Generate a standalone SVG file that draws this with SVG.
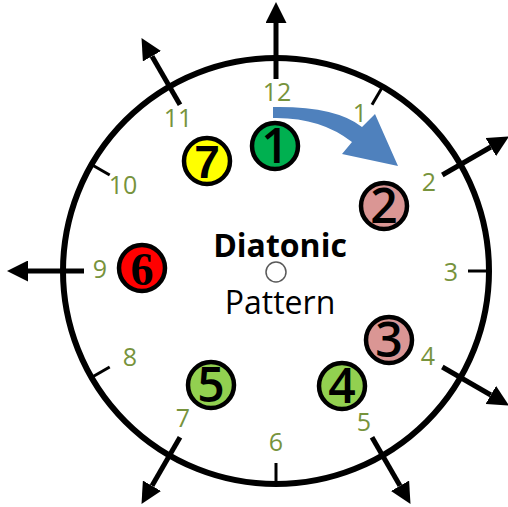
<svg xmlns="http://www.w3.org/2000/svg" width="508" height="507" viewBox="0 0 508 507">
<defs>
<style>
.lbl{font-family:"Open Sans","Liberation Sans",sans-serif;font-size:25px;fill:#77933C;text-anchor:middle}
.tick{stroke:#000;stroke-width:3;fill:none}
.arr{stroke:#000;stroke-width:5;fill:none}
.ring{stroke:#000;stroke-width:4.5}
.num{font-family:"Open Sans","Liberation Sans",sans-serif;font-size:48px;font-weight:600;fill:#000;text-anchor:middle}
</style>
<marker id="ah" viewBox="0 0 10 10" refX="0" refY="5" markerWidth="4.2" markerHeight="4.2" markerUnits="strokeWidth" orient="auto">
<path d="M0,0 L10,5 L0,10 Z" fill="#000"/>
</marker>
</defs>
<rect width="508" height="507" fill="#fff"/>
<g id="dial">
<circle cx="276" cy="271" r="213" fill="none" stroke="#000" stroke-width="6"/>
</g>
<g id="connectors">
<line class="tick" x1="372" y1="104.7" x2="383" y2="86"/>
<line class="tick" x1="468" y1="271" x2="490" y2="271"/>
<line class="tick" x1="276" y1="463" x2="276" y2="485"/>
<line class="tick" x1="109.7" y1="367" x2="90.5" y2="378"/>
<line class="tick" x1="109.7" y1="175" x2="90.5" y2="164"/>
<line class="arr" x1="276" y1="79" x2="276" y2="23" marker-end="url(#ah)"/>
<line class="arr" x1="442.3" y1="175" x2="490.8" y2="147" marker-end="url(#ah)"/>
<line class="arr" x1="442.3" y1="367" x2="490.8" y2="395" marker-end="url(#ah)"/>
<line class="arr" x1="372" y1="437.3" x2="400" y2="485.8" marker-end="url(#ah)"/>
<line class="arr" x1="180" y1="437.3" x2="152" y2="485.8" marker-end="url(#ah)"/>
<line class="arr" x1="84" y1="271" x2="28" y2="271" marker-end="url(#ah)"/>
<line class="arr" x1="180" y1="104.7" x2="152" y2="56.2" marker-end="url(#ah)"/>
<path id="blue-arrow" d="M273,107 Q336,106 362,127 L375,114 L398,166 L342,154 L352,142 Q320,117 273,118 Z" fill="#4F81BD"/>
</g>
<g id="labels">
<text class="lbl" x="277" y="101">12</text>
<text class="lbl" x="360" y="122">1</text>
<text class="lbl" x="429" y="191">2</text>
<text class="lbl" x="451" y="281">3</text>
<text class="lbl" x="428" y="365">4</text>
<text class="lbl" x="364" y="431">5</text>
<text class="lbl" x="276" y="451">6</text>
<text class="lbl" x="183" y="427">7</text>
<text class="lbl" x="130" y="366">8</text>
<text class="lbl" x="100" y="278">9</text>
<text class="lbl" x="123" y="194">10</text>
<text class="lbl" x="178" y="127">11</text>
</g>
<g id="n1"><circle class="ring" cx="275" cy="146" r="23" fill="#00B050"/><text class="num" x="275" y="163">1</text></g>
<g id="n2"><circle class="ring" cx="384" cy="206" r="23" fill="#DA9694"/><text class="num" x="384" y="223">2</text></g>
<g id="n3"><circle class="ring" cx="389" cy="340" r="23" fill="#DA9694"/><text class="num" x="389" y="357">3</text></g>
<g id="n4"><circle class="ring" cx="342" cy="386" r="23" fill="#92D050"/><text class="num" x="342" y="403">4</text></g>
<g id="n5"><circle class="ring" cx="211" cy="385" r="23" fill="#92D050"/><text class="num" x="211" y="402">5</text></g>
<g id="n6"><circle class="ring" cx="142" cy="268" r="23" fill="#FF0000"/><text x="142" y="285" font-family="'Liberation Serif',serif" font-weight="bold" font-size="46" text-anchor="middle" fill="#000">6</text></g>
<g id="n7"><circle class="ring" cx="207" cy="161" r="23" fill="#FFFF00"/><text x="207" y="178" font-family="'Liberation Sans',sans-serif" font-weight="bold" font-size="46" text-anchor="middle" fill="#000">7</text></g>
<g id="center">
<text x="280" y="257" font-family="'Open Sans','Liberation Sans',sans-serif" font-weight="bold" font-size="32" text-anchor="middle" fill="#000">Diatonic</text>
<circle cx="276" cy="272" r="10" fill="#fff" stroke="#595959" stroke-width="1.5"/>
<text x="280" y="314" font-family="'Open Sans','Liberation Sans',sans-serif" font-size="32" text-anchor="middle" fill="#000">Pattern</text>
</g>
</svg>
